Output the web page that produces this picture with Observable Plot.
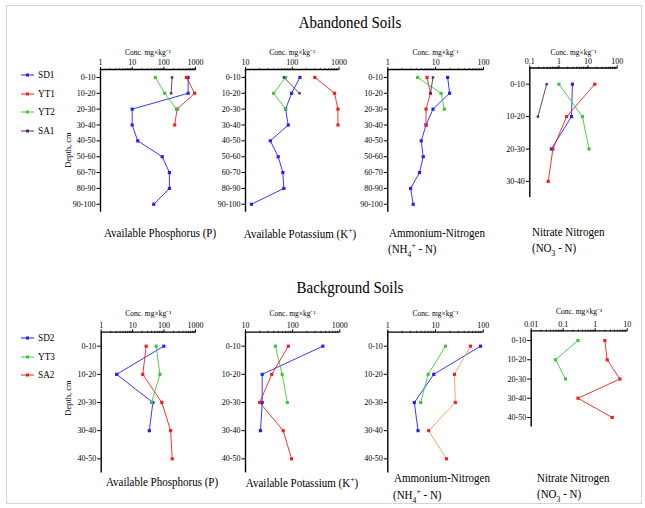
<!DOCTYPE html>
<html><head><meta charset="utf-8">
<script src="https://cdn.jsdelivr.net/npm/d3@7"></script>
<script src="https://cdn.jsdelivr.net/npm/@observablehq/plot@0.6"></script>
<style>
body{margin:0;background:#fff;}
#fig{position:relative;width:645px;height:508px;font-family:"Liberation Serif","Times New Roman",serif;color:#000;overflow:hidden;background:#fff;}
#fig svg.pl{position:absolute;left:0;top:0;}
.t{position:absolute;white-space:nowrap;line-height:1;}
.border{position:absolute;left:6px;top:5px;width:634px;height:497px;border:1px solid #d4d4d4;}
</style></head><body><div id="fig"><div class="border"></div></div>
<script>
// ---------- data ----------
const depthAb = ["0-10","10-20","20-30","30-40","40-50","50-60","60-70","80-90","90-100"];
const depthAbNO3 = ["0-10","10-20","20-30","30-40"];
const depthBg = ["0-10","10-20","20-30","30-40","40-50"];

const ticksP = ["1","10","100","1000"];
const ticksK = ["10","100","1000"];
const ticksNH4 = ["1","10","100"];
const ticksNO3ab = ["0.1","1","10","100"];
const ticksNO3bg = ["0.01","0.1","1","10"];

const seriesAb = ["SD1","YT1","YT2","SA1"];
const seriesBg = ["SD2","YT3","SA2"];

// Abandoned soils (mg/kg)
const abP_SD1 = [585,585,10,10,15,89,150,150,48];
const abP_YT1 = [515,944,263,220];
const abP_YT2 = [54,107,250];
const abP_SA1 = [182,170];

const abK_SD1 = [146,97,72,82,34,50,63,66,13.4];
const abK_YT1 = [305,805,948,950];
const abK_YT2 = [72,40,72];
const abK_SA1 = [66,143];

const abNH4_SD1 = [17.8,19.6,8.8,6.3,5.0,5.5,4.6,3.0,3.4];
const abNH4_YT1 = [6.6,7.8,6.3,6.3];
const abNH4_YT2 = [4.2,13,15.2];
const abNH4_SA1 = [8.8,7.8];

const abNO3_SD1 = [2.9,2.7,0.55];
const abNO3_YT1 = [17,1.84,0.62,0.43];
const abNO3_YT2 = [1.0,6.4,10.8];
const abNO3_SA1 = [0.38,0.19];

// Background soils (mg/kg)
const bgP_SD2 = [98,3.1,44,34];
const bgP_YT3 = [56,74,40];
const bgP_SA2 = [27,21,85,162,182];

const bgK_SD2 = [437,22.6,22.6,20.8];
const bgK_YT3 = [43,60,77];
const bgK_SA2 = [81,36,20,63,95];

const bgNH4_SD2 = [88,9.2,3.6,4.3];
const bgNH4_YT3 = [16.2,7.0,4.9];
const bgNH4_SA2 = [54,25,26,7.2,17];

const bgNO3_YT3 = [0.29,0.058,0.118];
const bgNO3_SA2 = [2.0,2.37,5.9,0.29,3.4];

// ---------- style ----------
const BLUE = "#2323f5", RED = "#f02020", GREEN = "#3cc83c", PURPLE = "#5a2a68", ORANGE = "#f2a048";
const colorOf = {SD1:BLUE, YT1:RED, YT2:GREEN, SA1:PURPLE, SD2:BLUE, YT3:GREEN, SA2:RED};
const W = 645, H = 508;
const FONT = '"Liberation Serif","Times New Roman",serif';
const concLabel = "Conc. mg×kg⁻¹";
const fig = document.getElementById("fig");

function minorTicks(dom){
  const out = [];
  for (let d = dom[0]; d < dom[1]*0.999; d *= 10)
    for (let k = 2; k <= 9; k++) out.push(+(d*k).toPrecision(6));
  return out;
}

function drawPanel(p){
  const major = p.tickLabels.map(Number);
  const marks = [
    Plot.axisX({anchor:"top", label:null, ticks: minorTicks(p.dom), tickFormat: () => "", tickSize: 1.8, strokeWidth: 0.8}),
    Plot.axisX({anchor:"top", label:null, ticks: major, tickFormat: d => p.tickLabels[major.indexOf(d)], tickSize: 3.2, tickPadding: 1, fontSize: 8, strokeWidth: 1}),
    Plot.axisY({anchor:"left", label:null, ticks: d3.range(p.cats.length), tickFormat: i => p.cats[i], tickSize: 3.5, tickPadding: 1.5, fontSize: 8, strokeWidth: 1}),
    Plot.ruleY([-0.5], {stroke:"#000", strokeWidth:1.4}),
    Plot.ruleX([p.dom[0]], {stroke:"#000", strokeWidth:1.4}),
    Plot.text([concLabel], {text: d => d, frameAnchor:"top", dy: -(p.y0 - p.concY), fontSize: 7.5})
  ];
  for (const s of p.series) {
    const data = s.values.map((v, i) => ({v, i}));
    marks.push(Plot.line(data, {x:"v", y:"i", stroke: s.line || colorOf[s.name], strokeWidth: 0.9}));
  }
  for (const s of p.series) {
    const data = s.values.map((v, i) => ({v, i}));
    marks.push(Plot.dot(data, {x:"v", y:"i", symbol:"square", r: s.name === "SA1" ? 1.4 : 1.8, fill: colorOf[s.name]}));
  }
  const svg = Plot.plot({
    width: W, height: H,
    marginLeft: p.x0, marginRight: W - p.x1, marginTop: p.y0, marginBottom: H - p.y1,
    x: {type:"log", domain: p.dom, label: null},
    y: {domain: [-0.5, p.cats.length - 0.5], reverse: true, label: null},
    style: {fontFamily: FONT, fontSize: "8px", background: "transparent", overflow: "visible"},
    marks
  });
  svg.classList.add("pl");
  fig.appendChild(svg);
}

const S = (name, values, line) => ({name, values, line});

const panels = [
  {x0:100, x1:195, y0:69, y1:211.7, concY:49.5, dom:[1,1000], tickLabels:ticksP, cats:depthAb,
   series:[S("SD1",abP_SD1), S("YT1",abP_YT1), S("YT2",abP_YT2), S("SA1",abP_SA1)]},
  {x0:245, x1:338.5, y0:69, y1:211.7, concY:49.5, dom:[10,1000], tickLabels:ticksK, cats:depthAb,
   series:[S("SD1",abK_SD1), S("YT1",abK_YT1), S("YT2",abK_YT2), S("SA1",abK_SA1)]},
  {x0:387.3, x1:483, y0:69, y1:211.7, concY:49.5, dom:[1,100], tickLabels:ticksNH4, cats:depthAb,
   series:[S("SD1",abNH4_SD1), S("YT1",abNH4_YT1), S("YT2",abNH4_YT2), S("SA1",abNH4_SA1)]},
  {x0:529.3, x1:616.7, y0:67.5, y1:197.1, concY:49.5, dom:[0.1,100], tickLabels:ticksNO3ab, cats:depthAbNO3,
   series:[S("SD1",abNO3_SD1), S("YT1",abNO3_YT1), S("YT2",abNO3_YT2), S("SA1",abNO3_SA1)]},
  {x0:100.7, x1:195, y0:331.6, y1:472.4, concY:310, dom:[1,1000], tickLabels:ticksP, cats:depthBg,
   series:[S("SD2",bgP_SD2), S("YT3",bgP_YT3), S("SA2",bgP_SA2)]},
  {x0:245, x1:339.3, y0:331.6, y1:472.4, concY:310, dom:[10,1000], tickLabels:ticksK, cats:depthBg,
   series:[S("SD2",bgK_SD2), S("YT3",bgK_YT3), S("SA2",bgK_SA2)]},
  {x0:387.3, x1:482.7, y0:331.6, y1:472.4, concY:310, dom:[1,100], tickLabels:ticksNH4, cats:depthBg,
   series:[S("SD2",bgNH4_SD2), S("YT3",bgNH4_YT3), S("SA2",bgNH4_SA2, ORANGE)]},
  {x0:530.7, x1:626.7, y0:330.4, y1:426.6, concY:308, dom:[0.01,10], tickLabels:ticksNO3bg, cats:depthBg,
   series:[S("YT3",bgNO3_YT3), S("SA2",bgNO3_SA2)]}
];
panels.forEach(drawPanel);

// ---------- text ----------
function addText(html, x, y, size, anchor = "center", extra = "") {
  const d = document.createElement("div");
  d.className = "t";
  d.innerHTML = html;
  d.style.left = x + "px";
  d.style.top = y + "px";
  d.style.fontSize = size + "px";
  const tx = anchor === "center" ? "-50%" : "0";
  d.style.transform = `translate(${tx},-50%) ${extra}`;
  d.style.transformOrigin = anchor === "center" ? "50% 50%" : "0 50%";
  fig.appendChild(d);
  return d;
}
const SQ = "scaleX(0.88)";
addText("Abandoned Soils", 350, 22, 17, "center", SQ);
addText("Background Soils", 350, 287, 17, "center", SQ);

addText("Available Phosphorus (P)", 160, 233, 12.5, "center", SQ);
addText("Available Potassium (K<sup style='font-size:0.7em'>+</sup>)", 300, 233, 12.5, "center", SQ);
addText("Ammonium-Nitrogen", 389, 233, 12.5, "left", SQ);
addText("(NH<sub style='font-size:0.7em'>4</sub><sup style='font-size:0.7em'>+</sup> - N)", 388, 250, 12.5, "left", SQ);
addText("Nitrate Nitrogen", 532, 232, 12.5, "left", SQ);
addText("(NO<sub style='font-size:0.7em'>3</sub> - N)", 532, 250, 12.5, "left", SQ);

addText("Available Phosphorus (P)", 162, 482, 12.5, "center", SQ);
addText("Available Potassium (K<sup style='font-size:0.7em'>+</sup>)", 302, 482, 12.5, "center", SQ);
addText("Ammonium-Nitrogen", 394, 478, 12.5, "left", SQ);
addText("(NH<sub style='font-size:0.7em'>4</sub><sup style='font-size:0.7em'>+</sup> - N)", 393, 496, 12.5, "left", SQ);
addText("Nitrate Nitrogen", 537, 478, 12.5, "left", SQ);
addText("(NO<sub style='font-size:0.7em'>3</sub> - N)", 537, 496, 12.5, "left", SQ);

addText("Depth, cm", 68, 150, 8.5, "center", "rotate(-90deg)");
addText("Depth, cm", 68, 398, 8.5, "center", "rotate(-90deg)");

// legends
function legend(names, y0, step) {
  names.forEach((n, i) => {
    const y = y0 + i*step;
    const c = colorOf[n];
    addText(`<svg width="13" height="6" style="vertical-align:middle;display:block"><line x1="0" y1="3" x2="13" y2="3" stroke="${c}" stroke-width="1"/><rect x="5" y="1.5" width="3" height="3" fill="${c}"/></svg>`, 21, y, 10, "left");
    addText(n, 38, y, 10.5, "left", SQ);
  });
}
legend(seriesAb, 75, 18.6);
legend(seriesBg, 338, 18.6);
</script></body></html>
